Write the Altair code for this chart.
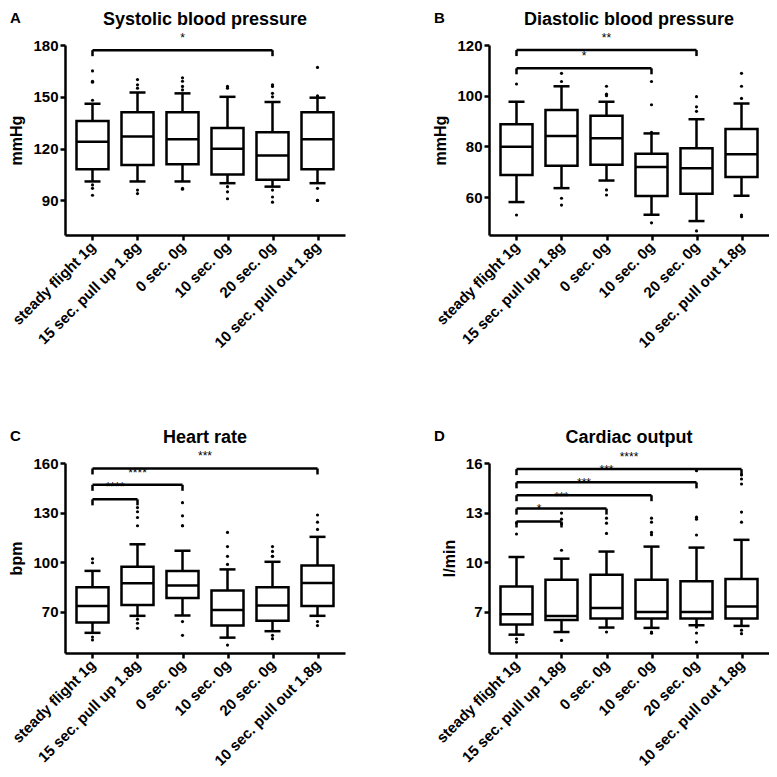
import json
import altair as alt
import pandas as pd

cats = ["steady flight 1g", "15 sec. pull up 1.8g", "0 sec. 0g", "10 sec. 0g",
        "20 sec. 0g", "10 sec. pull out 1.8g"]

# ---- A: Systolic blood pressure ----
a_wlo = [101, 101, 101, 100, 98, 100]
a_q1 = [108, 110.5, 111, 105, 102, 108]
a_med = [124, 127, 125.5, 120, 116, 125.5]
a_q3 = [136, 141, 141, 132, 129.5, 141]
a_whi = [146, 152.5, 152, 150, 147, 149.5]
a_out = [[165, 159, 158.5, 148, 99, 97, 93],
         [160, 157, 155, 96, 94],
         [161, 159, 156, 154, 97, 96.5],
         [156, 155, 98, 95, 91],
         [157, 156, 152, 150, 96, 92, 89],
         [167, 150.5, 150, 97, 90, 90]]
a_br_end = [4]
a_br_y = [177]
a_br_lab = ["*"]

# ---- B: Diastolic blood pressure ----
b_wlo = [58, 63.5, 66.5, 53, 50.5, 60.5]
b_q1 = [68.7, 72.3, 72.7, 60.4, 61.3, 67.9]
b_med = [79.8, 84.1, 83.2, 71.8, 71.3, 76.9]
b_q3 = [88.7, 94.3, 92.1, 77.1, 79.2, 86.8]
b_whi = [97.6, 103.7, 97.6, 85.1, 90.7, 96.9]
b_out = [[104.6, 52.9],
         [108.8, 105.6, 59.5, 56.8],
         [103.7, 100.6, 100, 62.8, 60.8],
         [105.6, 96.4, 85.5, 49.8],
         [99.6, 95.6, 93.8, 46.6],
         [108.8, 103.7, 98.9, 52.9, 52.2]]
b_br_end = [4, 3]
b_br_y = [118, 110.8]
b_br_lab = ["**", "*"]

# ---- C: Heart rate ----
c_wlo = [57.2, 67.5, 67.7, 54.3, 58.2, 67.5]
c_q1 = [63.5, 74, 78.3, 61.6, 64.5, 73.4]
c_med = [73.4, 87.2, 85.8, 71, 73.8, 87.4]
c_q3 = [84.8, 97.2, 94.7, 82.8, 84.8, 98]
c_whi = [94.7, 110.8, 106.9, 95.6, 100.2, 115.3]
c_out = [[102, 99.6, 54.7, 52.9],
         [133, 130.5, 127, 122, 65.5, 63, 60],
         [136, 128, 122, 122, 64, 55.7],
         [118, 109.4, 103.5, 98.6, 49.8],
         [109.4, 106.5, 103.5, 103.5, 55.7, 53.7],
         [128.5, 124.2, 119.8, 64, 61.6]]
c_br_end = [5, 2, 1]
c_br_y = [156.7, 146.8, 138]
c_br_lab = ["***", "****", "****"]

# ---- D: Cardiac output ----
d_wlo = [5.61, 5.77, 6.04, 6.02, 6.18, 6.14]
d_q1 = [6.22, 6.49, 6.59, 6.59, 6.59, 6.59]
d_med = [6.84, 6.74, 7.23, 6.98, 6.98, 7.31]
d_q3 = [8.53, 8.94, 9.23, 8.94, 8.84, 8.98]
d_whi = [10.31, 10.21, 10.64, 10.94, 10.88, 11.35]
d_out = [[12.38, 11.7, 5.36, 5.16],
         [12.97, 12.6, 12.32, 10.72, 5.26],
         [12.66, 12.36, 11.74, 5.77],
         [12.66, 12.42, 11.8, 11.66, 5.77, 5.7],
         [15.53, 12.72, 12.6, 11.64, 6.08, 5.71, 5.16],
         [15.28, 15.03, 14.73, 13.03, 12.42, 5.88, 5.67]]
d_br_end = [5, 4, 3, 2, 1]
d_br_y = [15.63, 14.83, 14.05, 13.24, 12.46]
d_br_lab = ["****", "***", "***", "***", "*"]

FONT = "Liberation Sans"
W, H = 280, 190
BOXW = 32
SW = 2.5

label_expr = "[" + ",".join(json.dumps(c) for c in cats) + "][datum.value]"


def panel(letter, title, ytitle, domain, ticks, wlo, q1, med, q3, whi, outl,
          br_end, br_y, br_lab):
    boxes = pd.DataFrame({"i": list(range(len(cats))), "wlo": wlo, "q1": q1,
                          "med": med, "q3": q3, "whi": whi})
    orows = [{"i": i, "v": v} for i, vals in enumerate(outl) for v in vals]
    outs = pd.DataFrame(orows)
    br = pd.DataFrame({"i0": [0] * len(br_end), "i1": br_end, "y": br_y,
                       "lab": br_lab})
    br = br.assign(mid=(br["i0"] + br["i1"]) / 2)
    brt = pd.concat([br[["i0", "y"]].rename(columns={"i0": "i"}),
                     br[["i1", "y"]].rename(columns={"i1": "i"})])

    xs = alt.Scale(domain=[-0.5, len(cats) - 0.5], nice=False, zero=False)
    xaxis = alt.Axis(values=list(range(len(cats))), labelExpr=label_expr,
                     labelAngle=-45, labelAlign="right", labelBaseline="middle",
                     labelPadding=4, labelOverlap=False, labelBound=False,
                     title=None, grid=False, tickSize=5)
    ys = alt.Scale(domain=domain, nice=False, zero=False)
    yaxis = alt.Axis(values=ticks, title=ytitle, grid=False, tickSize=5,
                     titlePadding=8)

    def X(f):
        return alt.X(f, scale=xs, axis=xaxis)

    def Y(f):
        return alt.Y(f, scale=ys, axis=yaxis)

    whisk = alt.Chart(boxes).mark_rule(color="black", strokeWidth=SW).encode(
        x=X("i:Q"), y=Y("wlo:Q"), y2="whi:Q")
    cap_lo = alt.Chart(boxes).mark_tick(orient="horizontal", size=16,
                                        thickness=SW, color="black",
                                        opacity=1).encode(x=X("i:Q"), y=Y("wlo:Q"))
    cap_hi = alt.Chart(boxes).mark_tick(orient="horizontal", size=16,
                                        thickness=SW, color="black",
                                        opacity=1).encode(x=X("i:Q"), y=Y("whi:Q"))
    box = alt.Chart(boxes).mark_bar(width=BOXW, fill="white", stroke="black",
                                    strokeWidth=SW).encode(
        x=X("i:Q"), y=Y("q1:Q"), y2="q3:Q")
    medm = alt.Chart(boxes).mark_tick(orient="horizontal", size=BOXW,
                                      thickness=SW, color="black",
                                      opacity=1).encode(x=X("i:Q"), y=Y("med:Q"))
    pts = alt.Chart(outs).mark_circle(size=10, color="black", opacity=1).encode(
        x=X("i:Q"), y=Y("v:Q"))
    brule = alt.Chart(br).mark_rule(color="black", strokeWidth=2.5).encode(
        x=X("i0:Q"), x2="i1:Q", y=Y("y:Q"))
    bticks = alt.Chart(brt).mark_tick(orient="vertical", size=6, thickness=2.5,
                                      color="black", opacity=1, yOffset=3).encode(
        x=X("i:Q"), y=Y("y:Q"))
    btext = alt.Chart(br).mark_text(dy=-5, baseline="bottom", fontSize=12,
                                    font=FONT, color="black").encode(
        x=X("mid:Q"), y=Y("y:Q"), text="lab:N")
    heads = pd.DataFrame({"t": [letter, title], "kind": ["letter", "title"]})
    let = alt.Chart(heads).transform_filter(alt.datum.kind == "letter").mark_text(
        align="left", baseline="top", fontSize=15, fontWeight="bold", font=FONT,
        color="black").encode(x=alt.value(-55), y=alt.value(-34), text="t:N")
    ttl = alt.Chart(heads).transform_filter(alt.datum.kind == "title").mark_text(
        align="center", baseline="alphabetic", fontSize=18, fontWeight="bold",
        font=FONT, color="black").encode(x=alt.value(W / 2), y=alt.value(-20),
                                         text="t:N")

    return alt.layer(whisk, cap_lo, cap_hi, box, medm, pts, brule, bticks,
                     btext, let, ttl).properties(width=W, height=H)


pa = panel("A", "Systolic blood pressure", "mmHg", [70, 180], [90, 120, 150, 180],
           a_wlo, a_q1, a_med, a_q3, a_whi, a_out, a_br_end, a_br_y, a_br_lab)
pb = panel("B", "Diastolic blood pressure", "mmHg", [45, 120], [60, 80, 100, 120],
           b_wlo, b_q1, b_med, b_q3, b_whi, b_out, b_br_end, b_br_y, b_br_lab)
pc = panel("C", "Heart rate", "bpm", [45, 160], [70, 100, 130, 160],
           c_wlo, c_q1, c_med, c_q3, c_whi, c_out, c_br_end, c_br_y, c_br_lab)
pd_ = panel("D", "Cardiac output", "l/min", [4.5, 16], [7, 10, 13, 16],
            d_wlo, d_q1, d_med, d_q3, d_whi, d_out, d_br_end, d_br_y, d_br_lab)

chart = alt.concat(pa, pb, pc, pd_, columns=2,
                   spacing={"row": 228, "column": 144}, bounds="flush").properties(
    padding={"top": 3, "left": 0, "right": 0, "bottom": 0}
).configure_axis(
    domainColor="black", domainWidth=SW, tickColor="black", tickWidth=SW,
    labelFont=FONT, labelFontWeight="bold", labelFontSize=15, labelColor="black",
    titleFont=FONT, titleFontWeight="bold", titleFontSize=16, titleColor="black",
).configure_view(stroke=None)

chart.save("out.html", embed_options={"renderer": "svg", "actions": False})
